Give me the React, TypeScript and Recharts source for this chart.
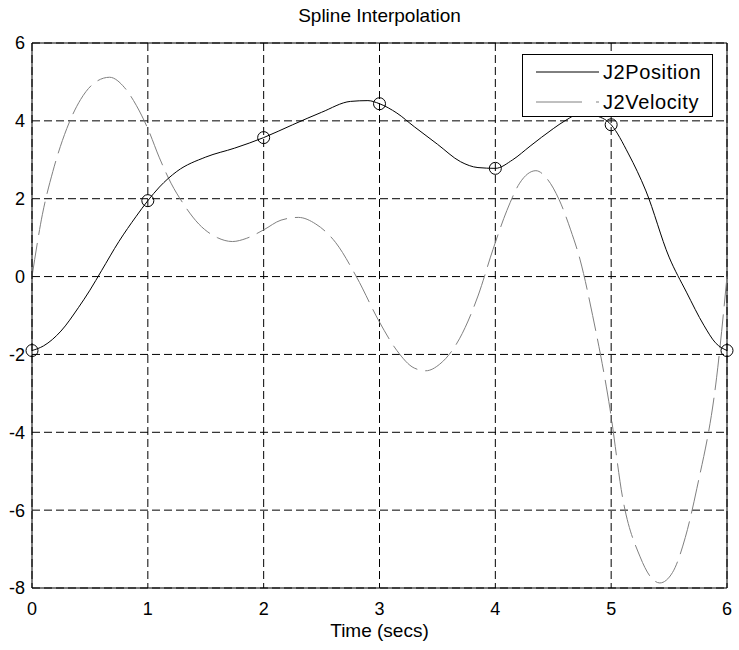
import React from "react";
import {
  LineChart,
  Line,
  XAxis,
  YAxis,
  CartesianGrid,
  ReferenceLine,
  Legend,
  Label,
} from "recharts";

// J2 position spline
const posT = [0, 0.1, 0.25, 0.4, 0.5, 0.6, 0.75, 0.9, 1, 1.1, 1.25, 1.5, 1.75, 2, 2.25, 2.5, 2.75, 2.9, 3, 3.15, 3.3, 3.5, 3.7, 3.85, 4, 4.15, 4.3, 4.5, 4.6, 4.75, 4.85, 5, 5.15, 5.3, 5.5, 5.65, 5.8, 5.9, 6];
const posV = [-1.9, -1.78, -1.4, -0.8, -0.35, 0.15, 0.9, 1.55, 1.95, 2.3, 2.7, 3.07, 3.3, 3.57, 3.9, 4.22, 4.5, 4.52, 4.44, 4.2, 3.85, 3.4, 2.95, 2.8, 2.78, 3.0, 3.35, 3.8, 4.0, 4.2, 4.15, 3.9, 3.15, 2.2, 0.5, -0.4, -1.25, -1.7, -1.9];

// J2 velocity
const velT = [0, 0.09, 0.18, 0.3, 0.42, 0.55, 0.67, 0.8, 0.9, 1, 1.1, 1.2, 1.3, 1.44, 1.6, 1.73, 1.85, 2, 2.15, 2.3, 2.45, 2.62, 2.8, 3, 3.15, 3.3, 3.4, 3.52, 3.69, 3.85, 3.98, 4.1, 4.21, 4.35, 4.45, 4.55, 4.65, 4.73, 4.84, 4.99, 5.1, 5.25, 5.35, 5.42, 5.53, 5.64, 5.74, 5.91, 6];
const velV = [0, 1.6, 2.7, 3.8, 4.55, 5.0, 5.12, 4.85, 4.4, 3.8, 3.05, 2.4, 1.9, 1.35, 1.0, 0.9, 0.98, 1.2, 1.45, 1.52, 1.35, 0.88, 0.0, -1.17, -1.9, -2.35, -2.42, -2.25, -1.6, -0.5, 0.7, 1.7, 2.4, 2.72, 2.5, 1.98, 1.2, 0.45, -1.0, -3.4, -5.7, -7.2, -7.75, -7.87, -7.6, -6.7, -5.44, -2.6, 0];

// spline knots (circle markers)
const knotT = [0, 1, 2, 3, 4, 5, 6];
const knotV = [-1.9, 1.95, 3.57, 4.44, 2.78, 3.9, -1.9];

const xTicks = [0, 1, 2, 3, 4, 5, 6];
const yTicks = [-8, -6, -4, -2, 0, 2, 4, 6];

const posData = posT.map((t, i) => ({ t, v: posV[i] }));
const velData = velT.map((t, i) => ({ t, v: velV[i] }));
const knotData = knotT.map((t, i) => ({ t, v: knotV[i] }));

const font = "'Liberation Sans', Arial, sans-serif";

function LegendBox() {
  const row = (label: string, dash?: string, color = "#000") => (
    <div style={{ display: "flex", alignItems: "center", height: 30 }}>
      <svg width={80} height={10}>
        <line x1={13} y1={5} x2={76} y2={5} stroke={color} strokeWidth={1} strokeDasharray={dash} />
      </svg>
      <span style={{ fontSize: 20, letterSpacing: 0.6, color: "#000" }}>{label}</span>
    </div>
  );
  return (
    <div
      style={{
        width: 191,
        height: 63,
        boxSizing: "border-box",
        border: "1px solid #000",
        background: "#fff",
        fontFamily: font,
        paddingTop: 2,
      }}
    >
      {row("J2Position")}
      {row("J2Velocity", "46 14", "#808080")}
    </div>
  );
}

export default function App() {
  return (
    <div style={{ position: "absolute", left: 0, top: 0, width: 739, height: 650, background: "#fff", fontFamily: font }}>
      <div
        style={{
          position: "absolute",
          left: 32,
          width: 695,
          top: 5,
          textAlign: "center",
          fontSize: 19,
          color: "#000",
          zIndex: 2,
        }}
      >
        Spline Interpolation
      </div>
      <LineChart width={739} height={650} margin={{ top: 43, right: 12, left: 0, bottom: 0 }}>
        <CartesianGrid stroke="#000" strokeDasharray="8 4" />
        <XAxis
          dataKey="t"
          type="number"
          domain={[0, 6]}
          ticks={xTicks}
          allowDuplicatedCategory={false}
          height={62}
          tickSize={0}
          tickMargin={14}
          tickLine={false}
          axisLine={{ stroke: "#000" }}
          tick={{ fill: "#000", fontSize: 18, fontFamily: font }}
        >
          <Label value="Time (secs)" position="insideBottom" offset={13} style={{ fill: "#000", fontSize: 19, fontFamily: font }} />
        </XAxis>
        <YAxis
          type="number"
          domain={[-8, 6]}
          ticks={yTicks}
          width={32}
          tickSize={0}
          tickMargin={7}
          tickLine={false}
          axisLine={{ stroke: "#000" }}
          tick={{ fill: "#000", fontSize: 18, fontFamily: font }}
        />
        <ReferenceLine y={6} stroke="#000" />
        <ReferenceLine x={6} stroke="#000" />
        <Line
          data={velData}
          dataKey="v"
          name="J2Velocity"
          type="monotone"
          stroke="#808080"
          strokeWidth={1}
          strokeDasharray="34 8"
          dot={false}
          isAnimationActive={false}
        />
        <Line
          data={posData}
          dataKey="v"
          name="J2Position"
          type="monotone"
          stroke="#000"
          strokeWidth={1}
          dot={false}
          isAnimationActive={false}
        />
        <Line
          data={knotData}
          dataKey="v"
          name="knots"
          stroke="none"
          legendType="none"
          dot={{ r: 6, fill: "none", stroke: "#000", strokeWidth: 1 }}
          isAnimationActive={false}
        />
        <Legend
          layout="vertical"
          align="center"
          verticalAlign="middle"
          wrapperStyle={{ left: 522, top: 54, width: 191 }}
          content={() => <LegendBox />}
        />
      </LineChart>
    </div>
  );
}
